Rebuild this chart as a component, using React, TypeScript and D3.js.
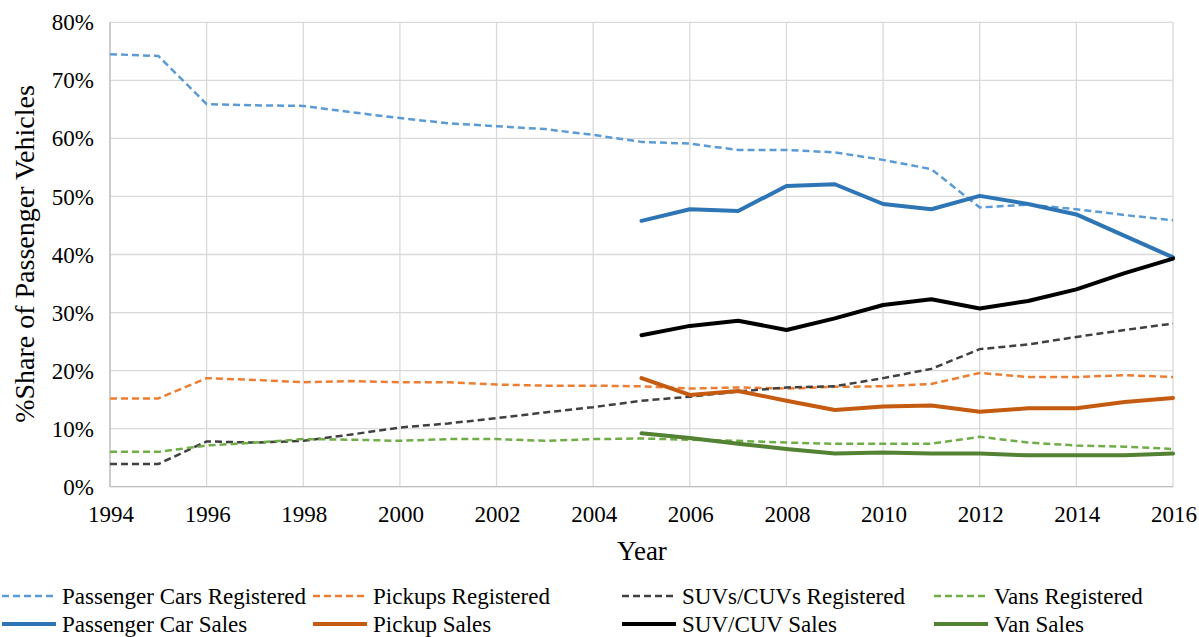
import React from "react";
import * as d3 from "d3";

const years = d3.range(1994, 2017);
const salesYears = d3.range(2005, 2017);

const passengerCarsRegistered = [74.5, 74.2, 65.9, 65.7, 65.6, 64.5, 63.5, 62.6, 62.1, 61.6, 60.6, 59.4, 59.1, 58.0, 58.0, 57.6, 56.3, 54.7, 48.1, 48.6, 47.8, 46.8, 45.9];
const pickupsRegistered = [15.2, 15.2, 18.7, 18.4, 18.0, 18.2, 18.0, 18.0, 17.6, 17.4, 17.4, 17.3, 16.9, 17.1, 16.9, 17.2, 17.3, 17.7, 19.6, 18.9, 18.9, 19.2, 18.9];
const suvsRegistered = [3.9, 3.9, 7.8, 7.6, 7.9, 9.0, 10.2, 10.9, 11.8, 12.8, 13.7, 14.8, 15.5, 16.4, 17.1, 17.3, 18.7, 20.3, 23.7, 24.5, 25.8, 27.0, 28.1];
const vansRegistered = [6.0, 6.0, 7.1, 7.6, 8.2, 8.1, 7.9, 8.2, 8.2, 7.9, 8.2, 8.3, 8.1, 7.9, 7.6, 7.4, 7.4, 7.4, 8.6, 7.6, 7.1, 6.9, 6.5];

const passengerCarSales = [45.8, 47.8, 47.5, 51.8, 52.1, 48.7, 47.8, 50.1, 48.7, 46.9, 43.2, 39.5];
const pickupSales = [18.7, 15.8, 16.5, 14.8, 13.2, 13.8, 14.0, 12.9, 13.5, 13.5, 14.6, 15.3];
const suvSales = [26.1, 27.7, 28.6, 27.0, 29.0, 31.3, 32.3, 30.7, 32.0, 34.0, 36.8, 39.3];
const vanSales = [9.2, 8.4, 7.4, 6.5, 5.7, 5.9, 5.7, 5.7, 5.4, 5.4, 5.4, 5.7];

const xTicks = d3.range(1994, 2017, 2);
const yTicks = d3.range(0, 81, 10);

type Series = { name: string; x: number[]; y: number[]; color: string; dashed: boolean };

const series: Series[] = [
  { name: "Passenger Cars Registered", x: years, y: passengerCarsRegistered, color: "#5B9BD5", dashed: true },
  { name: "Pickups Registered", x: years, y: pickupsRegistered, color: "#ED7D31", dashed: true },
  { name: "SUVs/CUVs Registered", x: years, y: suvsRegistered, color: "#404040", dashed: true },
  { name: "Vans Registered", x: years, y: vansRegistered, color: "#70AD47", dashed: true },
  { name: "Passenger Car Sales", x: salesYears, y: passengerCarSales, color: "#2E75B6", dashed: false },
  { name: "Pickup Sales", x: salesYears, y: pickupSales, color: "#C55A11", dashed: false },
  { name: "SUV/CUV Sales", x: salesYears, y: suvSales, color: "#000000", dashed: false },
  { name: "Van Sales", x: salesYears, y: vanSales, color: "#548235", dashed: false },
];

const legendCols = [0, 311, 620, 932];

export default function App() {
  const W = 1199, H = 637;
  const left = 110, right = 1173, top = 22.3, bottom = 486.7;
  const x = d3.scaleLinear().domain([1994, 2016]).range([left, right]);
  const y = d3.scaleLinear().domain([0, 80]).range([bottom, top]);
  const font = "Liberation Serif, DejaVu Serif, serif";
  const ts = { fontFamily: font } as React.CSSProperties;

  return (
    <svg width={W} height={H} style={{ position: "absolute", left: 0, top: 0, background: "#fff", fontFamily: font }}>
      {yTicks.map((t) => (
        <line key={"gy" + t} x1={left} x2={right} y1={y(t)} y2={y(t)} stroke="#D9D9D9" strokeWidth={1.3} />
      ))}
      {xTicks.map((t) => (
        <line key={"gx" + t} x1={x(t)} x2={x(t)} y1={top} y2={bottom} stroke="#D9D9D9" strokeWidth={1.3} />
      ))}
      <line x1={left} x2={left} y1={top} y2={bottom} stroke="#BFBFBF" strokeWidth={1.3} />
      <line x1={left} x2={right} y1={bottom} y2={bottom} stroke="#BFBFBF" strokeWidth={1.3} />
      {yTicks.map((t) => (
        <text key={"ty" + t} style={ts} x={94} y={y(t)} dy="0.35em" textAnchor="end" fontSize={23} fill="#000">{t + "%"}</text>
      ))}
      {xTicks.map((t) => (
        <text key={"tx" + t} style={ts} x={x(t) + 1} y={522} textAnchor="middle" fontSize={23} fill="#000">{t}</text>
      ))}
      <text style={ts} x={642} y={560} textAnchor="middle" fontSize={27} fill="#000">Year</text>
      <text style={ts} transform={`translate(34,254) rotate(-90)`} textAnchor="middle" fontSize={28} fill="#000">%Share of Passenger Vehicles</text>
      {series.map((s) => {
        const line = d3.line<number>().x((_, i) => x(s.x[i])).y((v) => y(v));
        return (
          <path key={s.name} d={line(s.y) || ""} fill="none" stroke={s.color}
            strokeWidth={s.dashed ? 2.5 : 4} strokeDasharray={s.dashed ? "7,4" : undefined}
            strokeLinejoin="round" strokeLinecap={s.dashed ? "butt" : "round"} />
        );
      })}
      {series.map((s, i) => {
        const col = i % 4;
        const row = Math.floor(i / 4);
        const lx = legendCols[col];
        const ly = 596 + row * 28;
        return (
          <g key={"lg" + s.name}>
            <line x1={lx + 2} x2={lx + 56} y1={ly} y2={ly} stroke={s.color}
              strokeWidth={s.dashed ? 2.5 : 4} strokeDasharray={s.dashed ? "7,4" : undefined} />
            <text style={ts} x={lx + 62} y={ly} dy="0.35em" fontSize={23} fill="#000">{s.name}</text>
          </g>
        );
      })}
    </svg>
  );
}
